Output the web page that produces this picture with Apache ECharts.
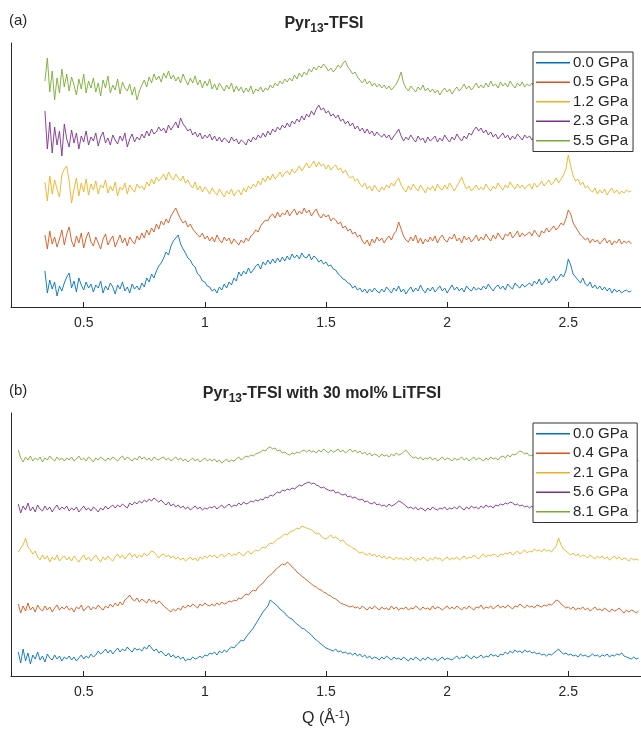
<!DOCTYPE html>
<html>
<head>
<meta charset="utf-8">
<script src="https://cdn.jsdelivr.net/npm/echarts@6/dist/echarts.min.js"></script>
<style>
  html, body { margin: 0; padding: 0; background: #fff; }
  #chart { width: 641px; height: 730px; }
</style>
</head>
<body>
<div id="chart"></div>
<script>
// Q sampling of the two data sets (A^-1)
var qStep = 0.01;
var qStartA = 0.34;
var qStartB = 0.23;

var namesA = ['0.0 GPa', '0.5 GPa', '1.2 GPa', '2.3 GPa', '5.5 GPa'];
var namesB = ['0.0 GPa', '0.4 GPa', '2.1 GPa', '5.6 GPa', '8.1 GPa'];
var xTicks = [0.5, 1, 1.5, 2, 2.5];

// (a) Pyr13-TFSI, intensities with vertical offsets as plotted (one row = 0.2 A^-1)
var a00 = [36,14,27,18,25,11,21,16,24,30,34,19,26,15,29,22,17,25,19,23,
  15,22,19,26,14,21,17,24,20,13,22,18,25,16,20,14,23,18,21,17,
  24,20,29,25,33,29,36,41,44,49,55,52,61,66,69,72,63,58,54,49,
  47,42,40,33,31,26,25,21,20,16,18,14,20,17,23,19,25,22,29,26,
  35,31,36,33,39,34,37,41,43,38,45,42,47,43,48,44,49,45,50,46,
  51,47,53,49,52,48,54,50,49,53,47,51,49,45,47,43,45,41,42,38,
  37,33,31,28,27,24,23,19,21,17,19,15,18,14,18,15,19,16,14,18,
  15,20,17,14,19,16,21,15,18,13,17,20,15,19,16,22,17,14,19,16,
  20,15,18,21,16,19,14,18,22,17,20,16,19,15,21,18,16,20,17,19,
  17,21,18,23,19,16,20,22,18,21,17,23,20,18,24,21,19,23,20,22,
  24,21,26,23,28,22,25,29,24,27,31,26,29,33,30,36,48,42,33,30,
  27,24,29,23,21,25,19,22,18,21,17,20,16,19,14,18,15,17,14,16,
  17,15,16];
var a05 = [72,58,76,63,70,60,68,77,62,73,80,66,60,71,64,74,59,69,75,65,
  61,70,64,58,68,73,62,67,71,60,66,72,64,69,61,70,66,63,71,67,
  74,69,77,72,79,75,83,78,86,82,88,84,91,95,99,93,88,84,86,80,
  83,78,75,72,70,74,68,71,66,70,65,72,67,64,70,66,69,63,68,65,
  62,67,64,69,66,71,73,77,75,81,84,87,86,91,93,89,95,90,94,92,
  97,91,95,98,92,96,93,99,94,97,91,95,98,92,89,93,90,92,86,89,
  87,83,85,79,81,76,78,73,75,70,72,66,63,67,61,68,64,70,66,69,
  64,68,71,67,73,76,85,78,71,67,65,70,66,72,64,69,63,68,65,70,
  66,71,64,69,72,67,65,70,68,73,66,69,64,71,67,70,65,68,72,66,
  70,67,73,69,66,72,68,74,70,67,73,71,75,69,72,76,70,74,71,73,
  75,71,77,73,70,76,74,79,75,78,81,77,80,84,82,88,97,93,84,80,
  76,72,70,67,69,64,68,65,67,63,66,69,64,67,62,66,64,68,63,66,
  64,66,63];
var a12 = [125,106,131,113,127,118,110,132,138,141,126,104,118,129,111,124,115,128,112,123,
  117,126,113,122,119,127,114,121,116,125,111,120,117,124,113,122,118,115,123,119,
  121,117,125,121,128,123,130,126,129,133,127,135,130,127,133,129,126,131,124,127,
  122,119,125,117,121,115,120,117,113,119,115,112,118,114,110,116,113,118,111,115,
  117,112,119,115,121,118,123,120,126,122,129,125,131,127,133,128,131,135,130,134,
  136,132,138,134,137,141,136,140,144,139,142,146,140,145,141,143,138,142,137,140,
  142,137,139,134,137,132,129,131,126,128,123,120,124,118,121,116,122,118,115,120,
  117,122,119,124,121,126,129,122,118,115,121,117,123,119,116,122,118,114,120,117,
  121,116,123,119,117,122,118,124,120,116,121,125,130,123,118,121,116,119,122,117,
  120,117,123,119,116,121,118,124,120,117,122,119,125,121,118,123,119,122,118,121,
  123,118,124,120,122,126,121,124,127,122,125,129,124,128,132,138,152,141,131,126,
  128,122,125,119,121,117,115,119,113,117,114,118,112,116,119,114,117,113,116,114,
  117,115,116];
var a23 = [196,158,185,154,180,162,176,151,183,168,160,177,164,174,158,171,165,176,162,170,
  166,174,161,170,175,164,169,162,172,167,163,171,166,174,160,168,173,165,170,167,
  173,169,176,171,178,173,175,180,176,179,174,182,177,181,185,179,189,183,180,176,
  178,172,175,170,174,168,172,169,173,167,171,166,170,165,169,167,164,170,166,168,
  163,167,165,162,168,165,170,167,172,169,174,170,176,172,178,175,180,177,182,179,
  184,180,186,183,188,185,191,187,193,190,196,192,198,202,197,199,194,196,191,193,
  189,192,186,188,183,186,181,184,178,181,176,179,174,178,173,176,171,175,172,170,
  173,169,172,167,171,174,178,171,166,170,167,172,168,165,171,167,169,164,170,166,
  168,171,165,169,166,172,168,165,170,167,173,169,166,171,168,174,172,177,180,176,
  179,174,177,172,175,170,173,168,171,174,169,172,167,171,168,173,170,167,172,169,
  171,167,170,166,169,172,167,170,165,169,167,171,166,170,168,165,169,167,171,168,
  166,170,167,164,169,166,171,167,165,169,166,170,167,164,168,166,170,167,165,169,
  167,169,168];
var a55 = [226,249,215,236,207,229,214,238,220,233,216,230,222,212,228,218,233,214,226,219,
  229,215,224,211,227,219,231,214,222,217,228,213,225,219,216,223,212,220,207,216,
  222,227,220,230,224,233,227,231,225,234,229,236,228,232,226,230,224,233,227,222,
  229,224,231,222,227,219,226,221,228,218,223,217,224,220,216,222,218,224,215,221,
  216,220,214,219,215,221,213,218,216,220,215,219,217,222,219,224,221,226,223,228,
  225,229,226,232,228,234,230,235,232,238,235,240,237,241,239,243,240,236,239,235,
  238,242,239,244,246,240,237,233,235,230,227,224,228,223,226,221,224,220,223,219,
  222,218,221,217,220,223,228,235,224,219,216,221,218,215,220,217,222,216,219,215,
  218,214,217,212,216,219,215,218,213,217,220,216,219,223,218,221,217,220,224,219,
  222,219,224,220,226,221,223,219,225,221,224,220,226,222,219,224,221,225,220,223,
  221,224,219,222,218,221,217,220,223,218,221,217,219,216,220,217,219,215,218,216,
  219,215,218,214,217,213,216,219,215,218,214,217,213,216,218,214,217,215,213,217,
  215,218,216];

// (b) Pyr13-TFSI with 30 mol% LiTFSI
var b00 = [24,13,27,15,23,12,21,17,24,16,20,14,22,18,16,21,17,20,15,19,
  17,20,16,19,15,18,21,17,20,18,22,19,21,25,22,24,27,23,26,22,
  25,28,24,27,25,29,26,24,28,26,27,25,29,27,31,28,25,27,23,25,
  22,20,23,19,21,18,20,17,19,15,17,16,19,17,18,20,18,21,20,23,
  22,24,21,25,23,26,24,27,29,28,31,33,36,35,39,42,45,48,52,56,
  60,64,67,70,76,74,72,70,67,65,63,60,58,57,54,52,50,48,47,45,
  43,41,38,36,34,32,30,28,27,26,25,27,24,25,23,24,22,23,21,23,
  20,22,19,21,18,20,17,19,18,16,19,17,20,18,16,19,17,18,16,19,
  17,15,18,16,19,17,15,18,16,19,17,16,18,15,17,19,16,18,17,16,
  18,20,17,19,18,21,19,17,20,18,19,21,18,20,19,22,20,21,19,22,
  21,24,22,25,23,26,24,25,23,26,24,25,23,24,22,23,21,22,20,22,
  21,23,25,27,24,22,23,21,22,20,21,19,22,20,21,19,20,22,20,21,
  19,21,20,22,19,21,20,22,21,23,20,19,18,17,19,17,18];
var b04 = [72,63,70,65,73,66,69,64,71,67,65,70,66,69,64,68,71,66,69,67,
  70,66,68,64,69,67,71,65,68,70,66,69,67,71,68,66,70,68,72,69,
  73,70,74,71,76,78,81,77,75,78,74,77,75,73,77,74,76,72,75,73,
  70,68,66,64,67,65,68,66,70,68,71,69,72,70,68,72,70,73,71,70,
  72,70,73,71,74,72,73,75,74,76,75,78,77,80,82,81,84,86,85,89,
  91,93,96,99,101,103,106,108,110,112,111,114,112,109,107,104,102,100,98,96,
  94,92,90,89,87,86,84,83,81,80,78,77,75,73,72,71,70,69,70,68,
  69,67,70,68,66,69,67,70,68,66,69,67,68,66,70,67,69,66,68,67,
  69,66,68,67,70,68,66,69,67,68,66,70,67,69,68,66,68,70,67,69,
  67,70,68,66,69,67,70,68,66,69,68,71,67,69,68,70,67,69,71,68,
  70,68,71,69,67,70,69,72,70,68,71,69,70,68,71,70,69,71,70,72,
  71,73,76,75,72,70,68,69,67,69,66,68,67,69,66,68,65,67,69,66,
  67,65,68,66,64,67,65,66,68,65,63,66,64,66,65,63,65];
var b21 = [124,128,131,138,129,126,122,125,119,116,121,117,120,114,119,116,121,115,118,120,
  116,119,115,120,117,114,118,121,116,119,115,118,121,117,114,119,116,120,117,115,
  119,122,118,121,117,120,123,119,122,118,121,119,123,120,122,125,124,121,118,121,
  122,119,121,118,120,117,119,116,118,115,117,119,116,118,115,119,117,120,118,121,
  119,121,118,120,122,119,121,123,120,122,121,124,122,120,123,125,122,124,126,125,
  127,129,128,131,133,132,135,137,138,140,142,141,144,145,146,148,147,150,149,148,
  147,146,144,142,143,140,138,137,139,141,138,139,137,135,136,133,131,130,128,127,
  125,123,124,122,121,123,120,122,119,121,118,120,117,119,118,116,119,117,118,116,
  118,116,119,117,115,118,116,119,117,115,118,116,119,117,118,115,117,119,116,118,
  117,119,116,118,120,117,119,118,121,119,117,120,122,119,121,120,122,121,119,122,
  121,123,122,124,121,123,125,122,124,126,123,125,124,127,125,126,124,127,125,126,
  124,127,130,138,131,127,125,123,121,123,120,122,119,121,120,118,121,119,117,120,
  118,120,117,119,116,118,120,117,119,116,118,117,115,118,116,117,116];
var b56 = [172,163,170,166,173,165,169,164,171,167,165,170,166,169,164,168,171,166,169,167,
  170,165,168,166,169,164,167,170,166,168,165,169,167,164,168,166,170,167,169,171,
  168,171,169,172,170,168,173,171,174,172,175,173,176,174,177,175,178,176,174,176,
  173,171,174,170,172,169,171,168,170,167,169,166,168,170,167,169,166,168,167,169,
  168,170,167,169,171,168,170,172,169,171,170,173,171,174,172,173,175,174,176,175,
  177,176,179,178,181,180,182,184,183,186,185,187,186,188,187,189,191,190,192,193,
  194,192,193,191,190,188,189,187,186,185,186,183,184,182,181,182,179,180,178,179,
  177,176,177,174,175,173,172,174,171,172,170,171,169,172,170,171,173,175,174,172,
  170,168,169,167,169,166,168,167,165,168,166,169,167,166,168,167,169,166,168,167,
  169,167,170,168,166,169,167,170,168,169,167,170,168,171,169,170,168,171,170,172,
  171,173,172,174,173,171,172,170,171,169,170,168,170,167,169,168,166,169,167,168,
  166,168,167,169,166,168,165,167,166,168,165,167,169,166,168,165,167,166,168,165,
  167,166,168,165,167,166,164,167,165,166,168,165,167,166,164,166,165];
var b81 = [226,218,214,219,216,220,215,218,216,219,214,218,216,220,217,215,219,216,218,215,
  218,216,219,215,217,220,216,218,215,219,217,214,218,216,219,217,215,218,216,219,
  217,215,218,220,216,219,217,215,218,216,220,217,219,216,218,215,219,217,216,218,
  219,216,218,215,217,219,216,218,215,217,214,216,218,215,217,214,216,218,215,217,
  215,217,214,216,213,215,217,214,216,215,217,219,216,218,220,219,221,220,222,223,
  224,226,225,228,229,227,228,225,226,223,224,222,221,223,222,224,223,225,226,224,
  226,224,225,223,226,224,227,225,223,226,224,225,227,224,226,223,225,227,224,226,
  223,225,222,224,221,223,220,222,221,219,222,220,221,219,222,220,223,221,222,224,
  226,223,220,218,219,217,219,216,218,217,219,216,218,215,217,219,216,218,217,215,
  218,216,217,219,216,218,215,217,219,216,218,217,215,218,216,219,217,218,216,219,
  220,218,221,219,222,221,223,225,224,222,223,220,221,219,220,218,219,217,220,218,
  219,217,218,216,219,217,215,218,216,217,219,216,218,215,217,216,218,215,217,216,
  218,216,217,215,218,216,214,217,215,216,218,215,217,216,214,216,215];

var seriesA = [a00, a05, a12, a23, a55];
var seriesB = [b00, b04, b21, b56, b81];
var colors = ['#0072BD', '#D95319', '#EDB120', '#7E2F8E', '#77AC30'];

var font = '"Liberation Sans", Arial, Helvetica, sans-serif';
var ink = '#262626';

function withQ(q0, vals) {
    return vals.map(function (v, i) {
        return [Math.round((q0 + i * qStep) * 1000) / 1000, v];
    });
}

var chart = echarts.init(document.getElementById('chart'));

var xAxisBase = function (idx) {
    return {
        type: 'value',
        gridIndex: idx,
        min: 0.2,
        max: 2.8,
        axisLine: { lineStyle: { color: ink, width: 1 } },
        axisTick: { show: true, inside: true, length: 5, customValues: xTicks, lineStyle: { color: ink } },
        axisLabel: { customValues: xTicks, fontSize: 14, color: ink, fontFamily: font, margin: 9 },
        splitLine: { show: false }
    };
};

var yAxisBase = function (idx, top) {
    return {
        type: 'value',
        gridIndex: idx,
        min: 0,
        max: top,
        axisLine: { show: true, lineStyle: { color: ink, width: 1 } },
        axisTick: { show: false },
        axisLabel: { show: false },
        splitLine: { show: false }
    };
};

var series = [];
seriesA.forEach(function (vals, k) {
    series.push({
        name: namesA[k], type: 'line', xAxisIndex: 0, yAxisIndex: 0,
        data: withQ(qStartA, vals), symbol: 'none', color: colors[k],
        lineStyle: { width: 0.9, color: colors[k] }
    });
});
seriesB.forEach(function (vals, k) {
    series.push({
        name: namesB[k] + ' ', type: 'line', xAxisIndex: 1, yAxisIndex: 1,
        data: withQ(qStartB, vals), symbol: 'none', color: colors[k],
        lineStyle: { width: 0.9, color: colors[k] }
    });
});

var legendBase = function (top, names) {
    return {
        left: 533,
        top: top,
        orient: 'vertical',
        data: names,
        icon: 'rect',
        itemWidth: 34,
        itemHeight: 1.4,
        itemGap: 4,
        padding: [3, 5, 3, 3],
        backgroundColor: '#fff',
        borderColor: '#333',
        borderWidth: 1,
        borderRadius: 0,
        selectedMode: false,
        textStyle: { fontSize: 15, lineHeight: 15.5, color: ink, fontFamily: font, padding: [0, 0, 0, -2] }
    };
};

var titleRich = {
    b: { fontSize: 16, fontWeight: 'bold', fill: ink, fontFamily: font },
    s: { fontSize: 12, fontWeight: 'bold', fill: ink, fontFamily: font, padding: [10, 0, 0, 0] }
};

var option = {
    animation: false,
    backgroundColor: '#fff',
    grid: [
        { left: 11, top: 43, width: 631, height: 264 },
        { left: 11, top: 413, width: 631, height: 263 }
    ],
    xAxis: [xAxisBase(0), xAxisBase(1)],
    yAxis: [yAxisBase(0, 264), yAxisBase(1, 263)],
    legend: [
        legendBase(52, namesA),
        legendBase(423, namesB.map(function (n) { return n + ' '; }))
    ],
    graphic: [
        { type: 'text', left: 9, top: 13, style: { text: '(a)', fontSize: 15, fill: ink, fontFamily: font } },
        { type: 'text', left: 9, top: 383, style: { text: '(b)', fontSize: 15, fill: ink, fontFamily: font } },
        { type: 'text', x: 324, y: 13, style: { text: '{b|Pyr}{s|13}{b|-TFSI}', rich: titleRich, align: 'center', verticalAlign: 'top' } },
        { type: 'text', x: 322, y: 383, style: { text: '{b|Pyr}{s|13}{b|-TFSI with 30 mol% LiTFSI}', rich: titleRich, align: 'center', verticalAlign: 'top' } },
        { type: 'text', x: 326, y: 709, style: {
            text: '{n|Q (Å}{p|-1}{n|)}',
            align: 'center', verticalAlign: 'top',
            rich: {
                n: { fontSize: 16, fill: ink, fontFamily: font },
                p: { fontSize: 11, fill: ink, fontFamily: font, padding: [0, 0, 9, 0] }
            }
        } }
    ],
    series: series
};

chart.setOption(option);
</script>
</body>
</html>
